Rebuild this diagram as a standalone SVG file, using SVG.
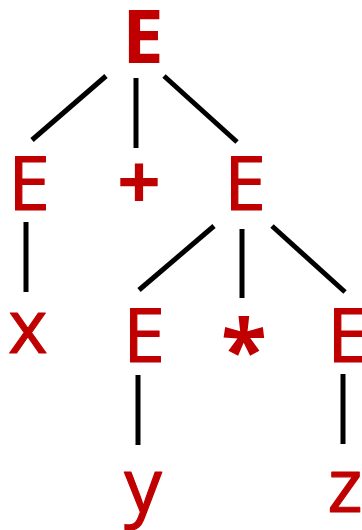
<svg xmlns="http://www.w3.org/2000/svg" width="362" height="530" viewBox="0 0 362 530">
<style>
.t{font-family:"Open Sans","Noto Sans",sans-serif;font-size:75px;fill:#C00000;stroke:#C00000;stroke-width:1.2;stroke-linejoin:round;text-anchor:middle}
.b{font-weight:bold;stroke-width:0}
.e line{stroke:#000;stroke-width:5}
</style>
<rect width="362" height="530" fill="#fff"/>
<g class="e" id="edges">
<line x1="106" y1="76" x2="32" y2="140"/>
<line x1="136" y1="78" x2="136" y2="148"/>
<line x1="164" y1="76" x2="237" y2="142"/>
<line x1="26" y1="222" x2="26" y2="292"/>
<line x1="214" y1="226" x2="139" y2="290"/>
<line x1="242" y1="229" x2="242" y2="298"/>
<line x1="272" y1="226" x2="345" y2="292"/>
<line x1="138" y1="375" x2="138" y2="445"/>
<line x1="343" y1="374" x2="343" y2="444"/>
</g>
<g id="root"><text class="t b" x="143" y="63" style="font-size:74px">E</text></g>
<g id="e1"><text class="t" x="29" y="210">E</text></g>
<g id="plus"><text class="t b" x="139" y="210" style="font-size:77px">+</text></g>
<g id="e2"><text class="t" x="245" y="210">E</text></g>
<g id="x"><text class="t" x="28" y="353">x</text></g>
<g id="e3"><text class="t" x="144" y="362">E</text></g>
<g id="star"><text class="t b" x="244" y="380" style="font-size:84px">*</text></g>
<g id="e4"><text class="t" x="348" y="362">E</text></g>
<g id="y"><text class="t" x="143" y="512">y</text></g>
<g id="z"><text class="t" x="345" y="512">z</text></g>
</svg>
